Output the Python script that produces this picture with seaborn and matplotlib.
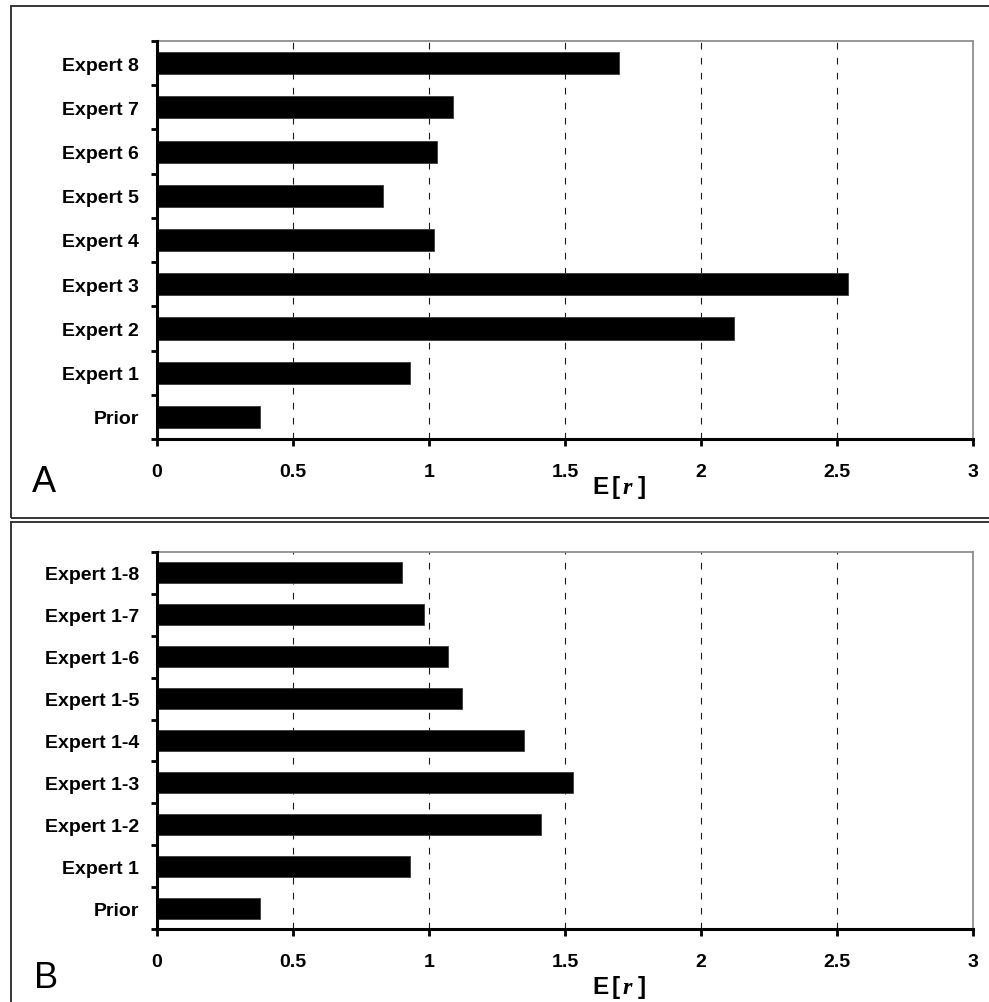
import matplotlib
matplotlib.use("Agg")
import matplotlib.pyplot as plt
import matplotlib.patches as mpatches
from matplotlib.ticker import FixedLocator
import seaborn as sns
import pandas as pd
import numpy as np

# Expected number of events E[r] per source
labels_a = ["Prior", "Expert 1", "Expert 2", "Expert 3", "Expert 4",
            "Expert 5", "Expert 6", "Expert 7", "Expert 8"]
values_a = [0.38, 0.93, 2.12, 2.54, 1.02, 0.83, 1.03, 1.09, 1.70]

labels_b = ["Prior", "Expert 1", "Expert 1-2", "Expert 1-3", "Expert 1-4",
            "Expert 1-5", "Expert 1-6", "Expert 1-7", "Expert 1-8"]
values_b = [0.38, 0.93, 1.41, 1.53, 1.35, 1.12, 1.07, 0.98, 0.90]

xticks = [0, 0.5, 1, 1.5, 2, 2.5, 3]
xtick_labels = ["0", "0.5", "1", "1.5", "2", "2.5", "3"]
panel_letters = ["A", "B"]

sns.set_theme(style="white")
plt.rcParams["font.family"] = ["Liberation Sans", "DejaVu Sans"]
plt.rcParams["mathtext.fontset"] = "custom"
plt.rcParams["mathtext.rm"] = "Liberation Sans:bold"
plt.rcParams["mathtext.bf"] = "Liberation Sans:bold"
plt.rcParams["mathtext.it"] = "Liberation Serif:italic:bold"

W, H = 989, 1003
fig = plt.figure(figsize=(W / 100, H / 100), dpi=100)
fig.patch.set_facecolor("white")


def px_rect(x0, y0, x1, y1):
    """Pixel box (top-left origin) -> figure fraction rect."""
    return [x0 / W, 1 - y1 / H, (x1 - x0) / W, (y1 - y0) / H]


def fx(x):
    return x / W


def fy(y):
    return 1 - y / H


# Panel frames
frames = [(11, 7, 1000, 519), (11, 523, 1000, 1010)]
for (x0, y0, x1, y1) in frames:
    fig.patches.append(mpatches.Rectangle(
        (fx(x0), fy(y1)), fx(x1) - fx(x0), fy(y0) - fy(y1),
        transform=fig.transFigure, fill=False, edgecolor="#262626",
        linewidth=1.3, zorder=0))

axes_boxes = [(157, 42, 973, 440), (157, 553, 973, 930)]
label_pos = [(619, 488), (619, 988)]
letter_pos = [(44, 482), (46, 979)]
datasets = [(labels_a, values_a), (labels_b, values_b)]

for i, ((labels, values), box) in enumerate(zip(datasets, axes_boxes)):
    ax = fig.add_axes(px_rect(*box))
    df = pd.DataFrame({"label": labels, "value": values})
    order = labels[::-1]
    sns.barplot(data=df, x="value", y="label", order=order, color="black",
                saturation=1, width=0.5, orient="h", ax=ax,
                edgecolor="#3a3a3a", linewidth=0.6, zorder=3)
    n = len(labels)
    ax.set_ylim(n - 0.5, -0.5)
    ax.set_xlim(0, 3)
    ax.set_xlabel("")
    ax.set_ylabel("")

    ax.set_xticks(xticks)
    ax.set_xticklabels(xtick_labels)
    ax.yaxis.set_minor_locator(FixedLocator(np.arange(-0.5, n, 1.0)))

    ax.tick_params(axis="y", which="major", length=0, pad=13,
                   labelsize=14, labelcolor="black")
    ax.tick_params(axis="y", which="minor", left=True, length=4.5,
                   width=2.0, color="black", direction="out")
    ax.tick_params(axis="x", which="major", bottom=True, length=5,
                   width=2.0, color="black", direction="out", pad=12,
                   labelsize=14, labelcolor="black")
    for t in ax.get_yticklabels() + ax.get_xticklabels():
        t.set_fontweight("bold")

    ax.xaxis.grid(True, linestyle=(0, (6, 7.5)), color="#1a1a1a",
                  linewidth=0.8, zorder=0)
    ax.yaxis.grid(False)
    ax.set_axisbelow(True)

    for side in ["left", "bottom"]:
        ax.spines[side].set_color("black")
        ax.spines[side].set_linewidth(2.2)
        ax.spines[side].set_zorder(5)
    for side in ["top", "right"]:
        ax.spines[side].set_color("#8f8f8f")
        ax.spines[side].set_linewidth(1.3)

    lx, ly = label_pos[i]
    fig.text(fx(lx), fy(ly),
             r"$\mathrm{E}\,\mathrm{[}\,\mathit{r}\;\mathrm{]}$",
             ha="center", va="center", fontsize=17.5, color="black")
    px, py = letter_pos[i]
    fig.text(fx(px), fy(py), panel_letters[i], ha="center", va="center",
             fontsize=26, color="black")

fig.savefig("out.png", dpi=100, facecolor="white")
